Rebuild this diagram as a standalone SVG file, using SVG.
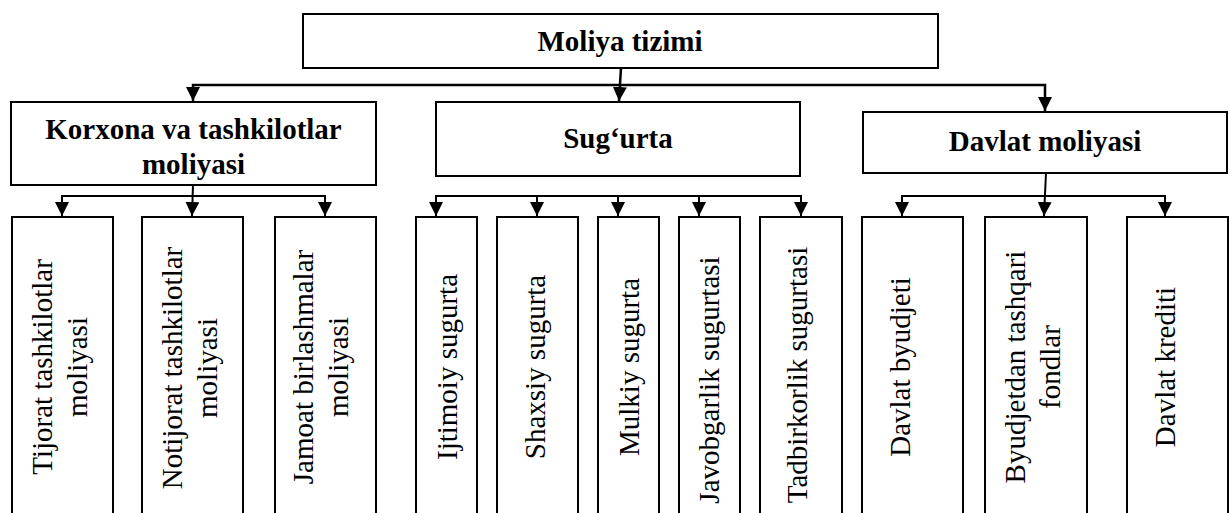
<svg xmlns="http://www.w3.org/2000/svg" width="1229" height="513" viewBox="0 0 1229 513">
<style>
.box{fill:#fff;stroke:#000;stroke-width:2}
.t{font-family:"Liberation Serif","Times New Roman",serif;font-size:29px;font-weight:bold;fill:#000;text-anchor:middle}
.v{font-family:"Liberation Serif","Times New Roman",serif;font-size:29px;fill:#000;text-anchor:middle}
.c{fill:none;stroke:#000;stroke-width:2}
.c2{fill:none;stroke:#000;stroke-width:2.5}
</style>
<defs>
<marker id="ah" viewBox="0 0 14 14" refX="14" refY="7" markerWidth="14" markerHeight="14" markerUnits="userSpaceOnUse" orient="auto">
<path d="M0,0 L14,7 L0,14 z" fill="#000"/>
</marker>
</defs>
<rect width="1229" height="513" fill="#fff"/>
<g id="connectors">
<path class="c2" d="M621,68 L619,101" marker-end="url(#ah)"/>
<path class="c2" d="M620,85 H193 V101" marker-end="url(#ah)"/>
<path class="c2" d="M620,85 H1045 V111" marker-end="url(#ah)"/>
<path class="c" d="M193,185 L192,216" marker-end="url(#ah)"/>
<path class="c" d="M193,196 H62 V216" marker-end="url(#ah)"/>
<path class="c" d="M193,196 H325 V216" marker-end="url(#ah)"/>
<path class="c" d="M436,196 H801"/>
<path class="c" d="M436,195 V216" marker-end="url(#ah)"/>
<path class="c" d="M537,196 V216" marker-end="url(#ah)"/>
<path class="c" d="M618,196 V216" marker-end="url(#ah)"/>
<path class="c" d="M699,196 V216" marker-end="url(#ah)"/>
<path class="c" d="M801,195 V216" marker-end="url(#ah)"/>
<path class="c" d="M1046,173 L1044,216" marker-end="url(#ah)"/>
<path class="c" d="M1045,196 H902 V216" marker-end="url(#ah)"/>
<path class="c" d="M1045,196 H1165 V216" marker-end="url(#ah)"/>
</g>
<g id="n-root">
<rect class="box" x="303" y="14" width="635" height="54"/>
<text class="t" x="620" y="51">Moliya tizimi</text>
</g>
<g id="n-korxona">
<rect class="box" x="11" y="102" width="365" height="83"/>
<text class="t" x="193.5" y="139">Korxona va tashkilotlar<tspan x="193.5" y="174">moliyasi</tspan></text>
</g>
<g id="n-sugurta">
<rect class="box" x="436" y="102" width="364" height="74"/>
<text class="t" x="618" y="148">Sug‘urta</text>
</g>
<g id="n-davlat">
<rect class="box" x="863" y="112" width="364" height="61"/>
<text class="t" x="1045" y="151">Davlat moliyasi</text>
</g>
<g id="n-tijorat">
<rect class="box" x="12" y="217" width="101" height="320"/>
<text class="v" transform="translate(52,367) rotate(-90)"><tspan x="0" y="0">Tijorat tashkilotlar</tspan><tspan x="0" y="35">moliyasi</tspan></text>
</g>
<g id="n-notijorat">
<rect class="box" x="142" y="217" width="101" height="320"/>
<text class="v" transform="translate(182,368) rotate(-90)"><tspan x="0" y="0">Notijorat tashkilotlar</tspan><tspan x="0" y="35">moliyasi</tspan></text>
</g>
<g id="n-jamoat">
<rect class="box" x="275" y="217" width="101" height="320"/>
<text class="v" transform="translate(313,367) rotate(-90)"><tspan x="0" y="0">Jamoat birlashmalar</tspan><tspan x="0" y="35">moliyasi</tspan></text>
</g>
<g id="n-ijtimoiy">
<rect class="box" x="416" y="217" width="61" height="320"/>
<text class="v" transform="translate(457,367) rotate(-90)">Ijtimoiy sugurta</text>
</g>
<g id="n-shaxsiy">
<rect class="box" x="497" y="217" width="81" height="320"/>
<text class="v" transform="translate(545,367) rotate(-90)">Shaxsiy sugurta</text>
</g>
<g id="n-mulkiy">
<rect class="box" x="598" y="217" width="61" height="320"/>
<text class="v" transform="translate(639,367) rotate(-90)">Mulkiy sugurta</text>
</g>
<g id="n-javobgarlik">
<rect class="box" x="679" y="217" width="61" height="320"/>
<text class="v" transform="translate(719,380) rotate(-90)">Javobgarlik sugurtasi</text>
</g>
<g id="n-tadbirkorlik">
<rect class="box" x="760" y="217" width="82" height="320"/>
<text class="v" transform="translate(807,375) rotate(-90)">Tadbirkorlik sugurtasi</text>
</g>
<g id="n-byudjet">
<rect class="box" x="862" y="217" width="101" height="320"/>
<text class="v" transform="translate(910,367) rotate(-90)">Davlat byudjeti</text>
</g>
<g id="n-byudjetdan">
<rect class="box" x="985" y="217" width="102" height="320"/>
<text class="v" transform="translate(1025,367) rotate(-90)"><tspan x="0" y="0">Byudjetdan tashqari</tspan><tspan x="0" y="35">fondlar</tspan></text>
</g>
<g id="n-kredit">
<rect class="box" x="1127" y="217" width="101" height="320"/>
<text class="v" transform="translate(1175,367) rotate(-90)">Davlat krediti</text>
</g>
</svg>
